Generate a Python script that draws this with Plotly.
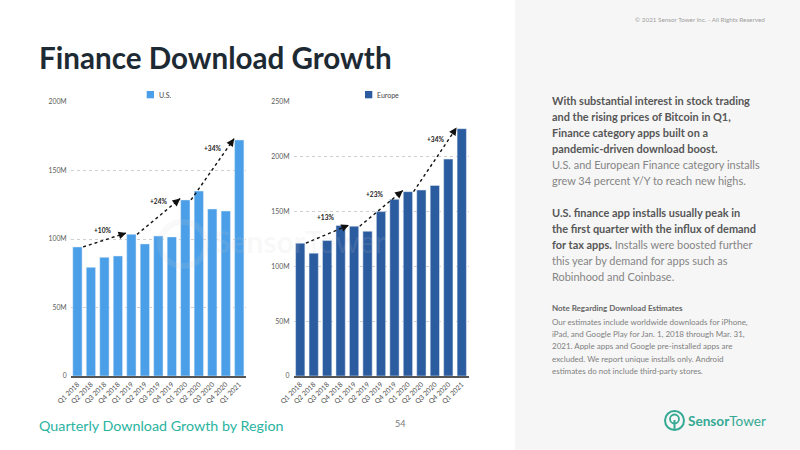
import plotly.graph_objects as go

# ---------------- data ----------------
quarters = ["Q1 2018", "Q2 2018", "Q3 2018", "Q4 2018", "Q1 2019", "Q2 2019", "Q3 2019",
            "Q4 2019", "Q1 2020", "Q2 2020", "Q3 2020", "Q4 2020", "Q1 2021"]
us_downloads = [94.2, 79.3, 86.6, 87.6, 103.4, 96.4, 102.2, 101.5, 128.5, 135.0, 121.9, 120.4, 172.3]
europe_downloads = [121.2, 112.1, 123.6, 137.3, 136.7, 132.1, 150.0, 161.2, 168.2, 169.7, 173.9, 197.9, 225.7]
growth_from = [0, 4, 8]
growth_to = [4, 8, 12]
us_growth_labels = ["+10%", "+24%", "+34%"]
europe_growth_labels = ["+13%", "+23%", "+34%"]
us_yticks = [0, 50, 100, 150, 200]
us_yticktext = ["0", "50M", "100M", "150M", "200M"]
europe_yticks = [0, 50, 100, 150, 200, 250]
europe_yticktext = ["0", "50M", "100M", "150M", "200M", "250M"]

# ---------------- layout helpers ----------------
W, H = 800, 450
FONT = "Lato"


def fx(p):
    return p / W


def fy(p):
    return 1 - p / H


US_COLOR = "#4a9fe8"
EU_COLOR = "#2c5ca0"
TEAL = "#2ab3a0"

fig = go.Figure()
xs = list(range(len(quarters)))
fig.add_trace(go.Bar(x=xs, y=us_downloads, xaxis="x", yaxis="y", marker_color=US_COLOR,
                     width=0.69, showlegend=False, name="U.S."))
fig.add_trace(go.Bar(x=xs, y=europe_downloads, xaxis="x2", yaxis="y2", marker_color=EU_COLOR,
                     width=0.69, showlegend=False, name="Europe"))

shapes = []
annotations = []

# right grey panel
shapes.append(dict(type="rect", xref="paper", yref="paper", x0=fx(515), x1=1, y0=0, y1=1,
                   fillcolor="#f6f6f6", line_width=0, layer="below"))

# faint watermark (drawn first so chart labels sit on top)
WM = "rgba(205,205,205,0.13)"
shapes.append(dict(type="circle", xref="paper", yref="paper", x0=fx(160), x1=fx(206),
                   y0=fy(266), y1=fy(222), line=dict(color=WM, width=6)))
annotations.append(dict(x=fx(300), y=fy(241), xref="paper", yref="paper", text="<b>Sensor</b>Tower",
                        showarrow=False, font=dict(family=FONT, size=30, color=WM)))

# growth arrows
label_shifts = {
    "x": ([-2, 0, 0], [10, 15, 21]),
    "x2": ([-2, -7, 0], [17, 14, 21]),
}
for xr, yr, vals, labels in [("x", "y", us_downloads, us_growth_labels),
                             ("x2", "y2", europe_downloads, europe_growth_labels)]:
    xsh, ysh = label_shifts[xr]
    for k in range(len(growth_from)):
        i0, i1 = growth_from[k], growth_to[k]
        x0, y0 = i0 + 0.42, vals[i0]
        x1, y1 = i1 - 0.38, vals[i1] + 1.0
        shapes.append(dict(type="line", xref=xr, yref=yr, x0=x0, y0=y0, x1=x1, y1=y1,
                           line=dict(color="#111111", width=1.4, dash="dot")))
        annotations.append(dict(x=x1, y=y1, ax=x1 - 0.1 * (x1 - x0), ay=y1 - 0.1 * (y1 - y0),
                                xref=xr, yref=yr, axref=xr, ayref=yr, text="", showarrow=True,
                                arrowhead=2, arrowsize=1.1, arrowwidth=1.4, arrowcolor="#111111",
                                standoff=0))
        annotations.append(dict(x=(x0 + x1) / 2, y=(y0 + y1) / 2, xref=xr, yref=yr,
                                text="<b>%s</b>" % labels[k], showarrow=False,
                                xshift=xsh[k], yshift=ysh[k],
                                font=dict(family=FONT, size=6.6, color="#222222")))

# manual legends
for sq_x, txt_x, color, name in [(146.7, 157, US_COLOR, "U.S."), (365, 374.5, EU_COLOR, "Europe")]:
    shapes.append(dict(type="rect", xref="paper", yref="paper", x0=fx(sq_x), x1=fx(sq_x + 7.3),
                       y0=fy(98.3), y1=fy(91), fillcolor=color, line_width=0))
    annotations.append(dict(x=fx(txt_x), y=fy(94.7), xref="paper", yref="paper", text=name,
                            showarrow=False, xanchor="left", yanchor="middle",
                            font=dict(family=FONT, size=7, color="#444444")))

# title / subtitle / page
annotations.append(dict(x=fx(37), y=fy(57), xref="paper", yref="paper",
                        text="<b>Finance Download Growth</b>", showarrow=False,
                        xanchor="left", yanchor="middle",
                        font=dict(family=FONT, size=29.6, color="#1e2a33")))
annotations.append(dict(x=fx(37), y=fy(425), xref="paper", yref="paper",
                        text="Quarterly Download Growth by Region", showarrow=False,
                        xanchor="left", yanchor="middle",
                        font=dict(family=FONT, size=14.3, color=TEAL)))
annotations.append(dict(x=fx(400), y=fy(431), xref="paper", yref="paper", text="54",
                        showarrow=False, font=dict(family=FONT, size=9, color="#777777")))
annotations.append(dict(x=fx(633), y=fy(19), xref="paper", yref="paper",
                        text="© 2021 Sensor Tower Inc. - All Rights Reserved", showarrow=False,
                        xanchor="left", yanchor="middle",
                        font=dict(family=FONT, size=6.3, color="#a0a0a0")))

# right body text
BOLD_C = "#575757"
REG_C = "#858585"


def b(t):
    return "<span style='color:%s'><b>%s</b></span>" % (BOLD_C, t)


body_lines = [
    (b("With substantial interest in stock trading"), 100.7),
    (b("and the rising prices of Bitcoin in Q1,"), 116.7),
    (b("Finance category apps built on a"), 132.7),
    (b("pandemic-driven download boost."), 148.7),
    ("U.S. and European Finance category installs", 164.7),
    ("grew 34 percent Y/Y to reach new highs.", 180.7),
    (b("U.S. finance app installs usually peak in"), 212.3),
    (b("the first quarter with the influx of demand"), 228.3),
    (b("for tax apps.") + " Installs were boosted further", 244.3),
    ("this year by demand for apps such as", 260.3),
    ("Robinhood and Coinbase.", 276.3),
]
for t, yy in body_lines:
    annotations.append(dict(x=fx(549.5), y=fy(yy), xref="paper", yref="paper", text=t,
                            showarrow=False, xanchor="left", yanchor="middle",
                            font=dict(family=FONT, size=10.95, color=REG_C)))

note_lines = [
    ("<span style='color:#666666'><b>Note Regarding Download Estimates</b></span>", 308.3),
    ("Our estimates include worldwide downloads for iPhone,", 322.3),
    ("iPad, and Google Play for Jan. 1, 2018 through Mar. 31,", 334.4),
    ("2021. Apple apps and Google pre-installed apps are", 346.4),
    ("excluded. We report unique installs only. Android", 358.5),
    ("estimates do not include third-party stores.", 370.6),
]
for t, yy in note_lines:
    annotations.append(dict(x=fx(549.5), y=fy(yy), xref="paper", yref="paper", text=t,
                            showarrow=False, xanchor="left", yanchor="middle",
                            font=dict(family=FONT, size=8.0, color="#808080")))

# logo
LOGO = "#35a994"
shapes.append(dict(type="circle", xref="paper", yref="paper", x0=fx(665), x1=fx(684),
                   y0=fy(430), y1=fy(411), line=dict(color=LOGO, width=2)))
shapes.append(dict(type="circle", xref="paper", yref="paper", x0=fx(670), x1=fx(679),
                   y0=fy(423.5), y1=fy(414.5), line=dict(color=LOGO, width=1.8)))
shapes.append(dict(type="line", xref="paper", yref="paper", x0=fx(674.5), x1=fx(674.5),
                   y0=fy(420), y1=fy(430), line=dict(color=LOGO, width=2)))
annotations.append(dict(x=fx(686), y=fy(420.5), xref="paper", yref="paper",
                        text="<b>Sensor</b>Tower", showarrow=False, xanchor="left", yanchor="middle",
                        font=dict(family=FONT, size=13.6, color=LOGO)))

axis_common = dict(range=[-0.5, 12.5], tickmode="array", tickvals=xs, ticktext=quarters,
                   tickangle=-45, showline=True, linecolor="#555555", linewidth=1.5,
                   showgrid=False, zeroline=False, ticks="", automargin=False,
                   tickfont=dict(family=FONT, size=6.9, color="#505050"), fixedrange=True)
yaxis_common = dict(showgrid=True, gridcolor="#cfcfcf", griddash="dot", gridwidth=1,
                    zeroline=False, showline=False, ticks="", ticklabelstandoff=3, automargin=False,
                    tickfont=dict(family=FONT, size=6.8, color="#5a5a5a"), fixedrange=True)

fig.update_layout(
    width=W, height=H,
    margin=dict(l=0, r=0, t=0, b=0, pad=0, autoexpand=False),
    paper_bgcolor="white", plot_bgcolor="rgba(0,0,0,0)",
    xaxis=dict(domain=[fx(70.7), fx(246)], anchor="y", **axis_common),
    xaxis2=dict(domain=[fx(293.5), fx(468.5)], anchor="y2", **axis_common),
    yaxis=dict(domain=[fy(376), fy(102)], anchor="x", range=[0, 200], tickmode="array",
               tickvals=us_yticks, ticktext=us_yticktext, **yaxis_common),
    yaxis2=dict(domain=[fy(376), fy(102)], anchor="x2", range=[0, 250], tickmode="array",
                tickvals=europe_yticks, ticktext=europe_yticktext, **yaxis_common),
    shapes=shapes,
    annotations=annotations,
    bargap=0.31,
    showlegend=False,
    font=dict(family=FONT),
)

fig.write_html("out.html")
